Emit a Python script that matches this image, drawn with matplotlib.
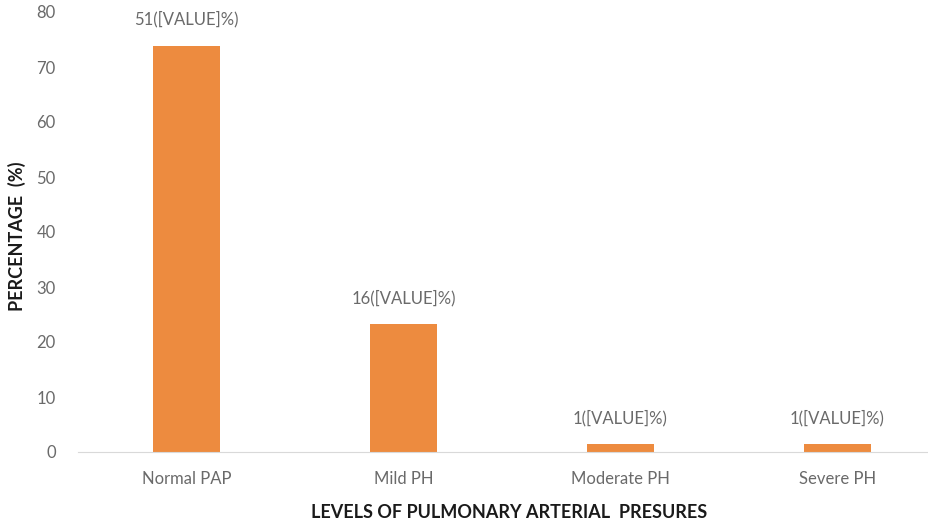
import numpy as np
import matplotlib
matplotlib.use("Agg")
import matplotlib.pyplot as plt

plt.rcParams['font.family'] = ['Lato', 'DejaVu Sans']

# PAP levels among 69 patients
categories = ['Normal PAP', 'Mild PH', 'Moderate PH', 'Severe PH']
counts = [51, 16, 1, 1]
percentages = [73.9, 23.2, 1.45, 1.45]
bar_labels = ['51([VALUE]%)', '16([VALUE]%)', '1([VALUE]%)', '1([VALUE]%)']

fig = plt.figure(figsize=(9.29, 5.24), dpi=100)
ax = fig.add_axes([78 / 929, 72 / 524, 868 / 929, 440 / 524])

x = np.arange(len(categories))
bars = ax.bar(x, percentages, width=0.31, color='#ED8B3F', zorder=2)

for b, lab in zip(bars, bar_labels):
    ax.annotate(lab, (b.get_x() + b.get_width() / 2, b.get_height()),
                xytext=(0, 13), textcoords='offset points',
                ha='center', va='bottom', fontsize=12, color='#6A6A6A')

ax.set_xlim(-0.5, 3.5)
ax.set_ylim(0, 80)
ax.set_yticks(range(0, 81, 10))
ax.set_xticks(x)
ax.set_xticklabels(categories)

for s in ['top', 'right', 'left']:
    ax.spines[s].set_visible(False)
ax.spines['bottom'].set_color('#D9D9D9')
ax.tick_params(axis='both', length=0, labelsize=12, colors='#6A6A6A')
ax.tick_params(axis='x', pad=14)
ax.tick_params(axis='y', pad=16)

ax.set_ylabel('PERCENTAGE  (%)', fontsize=13, fontweight='bold', color='#1A1A1A')
ax.yaxis.set_label_coords(-52 / 868, 0.49)
fig.text(509 / 929, 12 / 524, 'LEVELS OF PULMONARY ARTERIAL  PRESURES',
         ha='center', va='center', fontsize=13, fontweight='bold', color='#1A1A1A')

fig.savefig('out.png', dpi=100)
